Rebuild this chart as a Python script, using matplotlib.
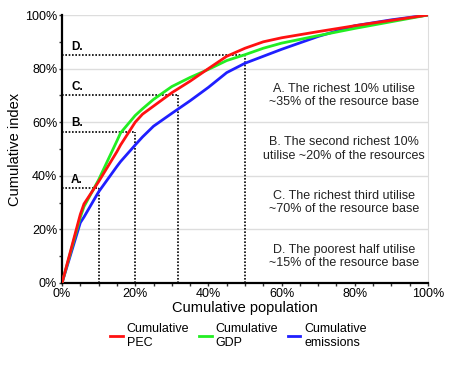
import matplotlib
matplotlib.use("Agg")
import matplotlib.pyplot as plt
from matplotlib.ticker import MultipleLocator, PercentFormatter

plt.rcParams['font.family'] = ['Liberation Sans', 'DejaVu Sans']

pop = [0, 5, 6, 10, 15, 16, 20, 22, 25, 30, 35, 40, 45, 50, 55, 60, 70, 80, 90, 100]
pec = [0, 25.6, 29.5, 37.8, 49, 51.5, 60, 63, 66, 71, 75.3, 80, 84.6, 87.6, 90, 91.5, 93.8, 96, 98, 100]
gdp = [0, 24.5, 28.5, 38.5, 53, 56, 62.5, 65, 68.5, 73.3, 76.7, 79.7, 83, 85.2, 87.6, 89.5, 92.3, 95, 97.5, 100]
emi = [0, 22.5, 24.6, 34, 43.5, 45.3, 51.5, 54.5, 58.5, 63.3, 68, 73, 78.5, 82, 84.6, 87.2, 92, 96, 98.2, 100]

marker_labels = ["A.", "B.", "C.", "D."]
marker_x = [10, 20, 31.6, 50]
marker_y = [35.3, 56.5, 70, 85]

notes = ["A. The richest 10% utilise\n~35% of the resource base",
         "B. The second richest 10%\nutilise ~20% of the resources",
         "C. The richest third utilise\n~70% of the resource base",
         "D. The poorest half utilise\n~15% of the resource base"]
note_y = [70, 50, 30, 10]

fig = plt.figure(figsize=(4.5, 3.66), dpi=100)
ax = fig.add_axes([0.1378, 0.2268, 0.8133, 0.7322])

ax.set_xlim(0, 100)
ax.set_ylim(0, 100)
ax.yaxis.set_major_locator(MultipleLocator(20))
ax.yaxis.set_minor_locator(MultipleLocator(10))
ax.xaxis.set_major_locator(MultipleLocator(20))
ax.xaxis.set_minor_locator(MultipleLocator(5))
ax.xaxis.set_major_formatter(PercentFormatter(decimals=0))
ax.yaxis.set_major_formatter(PercentFormatter(decimals=0))
ax.tick_params(axis='both', which='both', labelsize=9, length=2.5, width=1, color='#333333', pad=1)
ax.grid(axis='y', which='major', color='#dddddd', linewidth=1)
ax.set_axisbelow(True)
ax.spines['top'].set_visible(False)
ax.spines['right'].set_color('#dddddd')
ax.spines['left'].set_linewidth(1.6)
ax.spines['bottom'].set_linewidth(1.6)

for lab, mx, my in zip(marker_labels, marker_x, marker_y):
    ax.plot([0, mx], [my, my], color='black', linestyle=(0, (1, 1)), linewidth=1.2)
    ax.plot([mx, mx], [0, my], color='black', linestyle=(0, (1, 1)), linewidth=1.2)
    ax.text(2.5, my + 0.8, lab, fontsize=8.5, fontweight='bold', va='bottom', ha='left')

ax.plot(pop, emi, color='#1f1fff', linewidth=2, label='Cumulative\nemissions', zorder=3)
ax.plot(pop, gdp, color='#22ee22', linewidth=2, label='Cumulative\nGDP', zorder=4)
ax.plot(pop, pec, color='#ff1111', linewidth=2, label='Cumulative\nPEC', zorder=5)

for t, y in zip(notes, note_y):
    ax.text(77, y, t, fontsize=9, ha='center', va='center', color='#222222', linespacing=1.15)

ax.set_xlabel('Cumulative population', fontsize=10.5, labelpad=1)
ax.set_ylabel('Cumulative index', fontsize=10.5, labelpad=2)

h, l = ax.get_legend_handles_labels()
order = [2, 1, 0]
fig.legend([h[i] for i in order], [l[i] for i in order], loc='center', bbox_to_anchor=(0.53, 0.083),
           ncol=3, frameon=False, fontsize=9, handlelength=1.0, handletextpad=0.3,
           columnspacing=0.8, labelspacing=0.2)

fig.savefig('out.png', dpi=100)
